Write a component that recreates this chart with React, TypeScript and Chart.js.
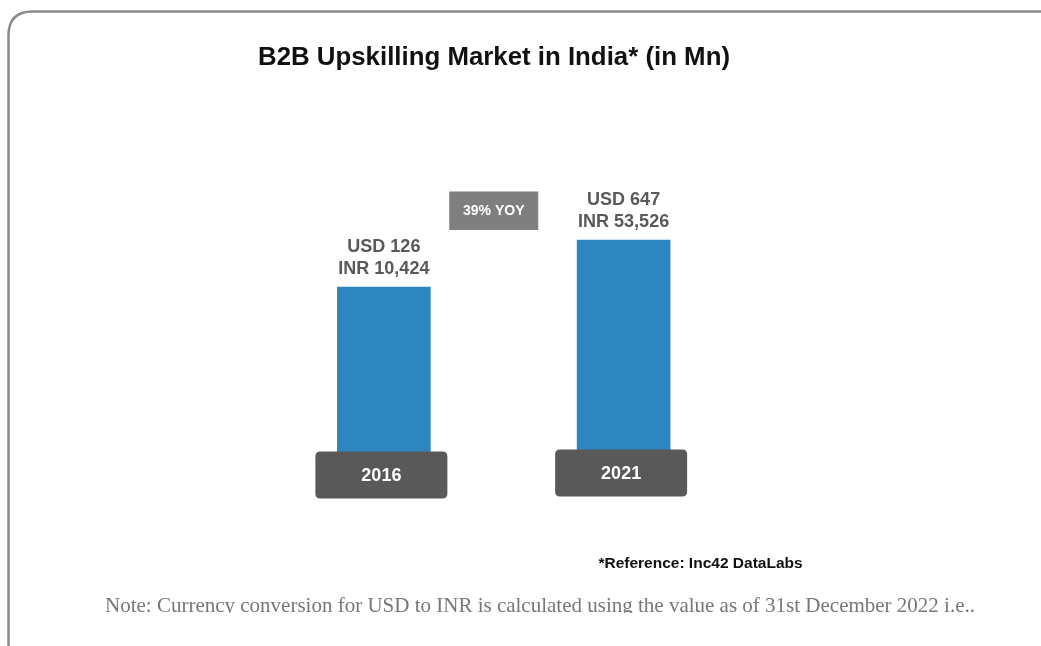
import React, { useEffect, useRef } from "react";
import { Chart, registerables } from "chart.js";

Chart.register(...registerables);

const years = ["2016", "2021"];
const usdValues = [126, 647];
const inrValues = [10424, 53526];
const yoyLabel = "39% YOY";
const titleText = "B2B Upskilling Market in India* (in Mn)";
const referenceText = "*Reference: Inc42 DataLabs";
const noteText =
  "Note: Currency conversion for USD to INR is calculated using the value as of 31st December 2022 i.e..";

const SANS = '"Liberation Sans", Arial, sans-serif';
const SERIF = '"Liberation Serif", "Times New Roman", serif';
const Y_MIN = -1900;
const Y_MAX = 2200;

function roundRect(ctx: CanvasRenderingContext2D, x: number, y: number, w: number, h: number, r: number) {
  ctx.beginPath();
  ctx.moveTo(x + r, y);
  ctx.lineTo(x + w - r, y);
  ctx.quadraticCurveTo(x + w, y, x + w, y + r);
  ctx.lineTo(x + w, y + h - r);
  ctx.quadraticCurveTo(x + w, y + h, x + w - r, y + h);
  ctx.lineTo(x + r, y + h);
  ctx.quadraticCurveTo(x, y + h, x, y + h - r);
  ctx.lineTo(x, y + r);
  ctx.quadraticCurveTo(x, y, x + r, y);
  ctx.closePath();
}

const decorPlugin = {
  id: "decor",
  beforeDraw(chart: any) {
    const ctx: CanvasRenderingContext2D = chart.ctx;
    ctx.save();
    ctx.fillStyle = "#ffffff";
    ctx.fillRect(0, 0, chart.width, chart.height);
    ctx.strokeStyle = "#8a8a8a";
    ctx.lineWidth = 2.5;
    roundRect(ctx, 8.5, 11.5, 1054, 655, 24);
    ctx.stroke();
    ctx.restore();
  },
  afterDatasetsDraw(chart: any) {
    const ctx: CanvasRenderingContext2D = chart.ctx;
    const meta = chart.getDatasetMeta(0);
    ctx.save();

    ctx.fillStyle = "#111111";
    ctx.font = `bold 26px ${SANS}`;
    ctx.textAlign = "center";
    ctx.textBaseline = "alphabetic";
    ctx.fillText(titleText, 494, 65, 472);

    meta.data.forEach((bar: any, i: number) => {
      const cx = bar.x;
      const top = bar.y;
      ctx.fillStyle = "#595959";
      ctx.font = `bold 18px ${SANS}`;
      ctx.textAlign = "center";
      ctx.textBaseline = "middle";
      ctx.fillText(`USD ${usdValues[i]}`, cx, top - 40);
      ctx.fillText(`INR ${inrValues[i].toLocaleString("en-US")}`, cx, top - 18);

      const bw = 132;
      const bh = 47;
      const bx = cx - 2.5;
      const by = i === 0 ? 451.5 : 449.5;
      ctx.fillStyle = "#595959";
      roundRect(ctx, bx - bw / 2, by, bw, bh, 5);
      ctx.fill();
      ctx.fillStyle = "#ffffff";
      ctx.font = `bold 18px ${SANS}`;
      ctx.fillText(years[i], bx, by + bh / 2 + 1);
    });

    const x0 = meta.data[0].x;
    const x1 = meta.data[1].x;
    const mid = (x0 + x1) / 2 - 10;
    ctx.fillStyle = "#7f7f7f";
    ctx.fillRect(mid - 44.5, 191.5, 89, 38.5);
    ctx.fillStyle = "#ffffff";
    ctx.font = `bold 14px ${SANS}`;
    ctx.textAlign = "center";
    ctx.textBaseline = "middle";
    ctx.fillText(yoyLabel, mid, 211.5);

    ctx.fillStyle = "#111111";
    ctx.font = `bold 15.5px ${SANS}`;
    ctx.textBaseline = "alphabetic";
    ctx.fillText(referenceText, 700.5, 568, 205);

    ctx.save();
    ctx.beginPath();
    ctx.rect(0, 580, chart.width, 33);
    ctx.clip();
    ctx.fillStyle = "#777777";
    ctx.font = `21px ${SERIF}`;
    ctx.textAlign = "left";
    ctx.fillText(noteText, 105, 611.5, 870);
    ctx.restore();

    ctx.restore();
  },
};

export default function App() {
  const ref = useRef<HTMLCanvasElement | null>(null);
  useEffect(() => {
    if (!ref.current) return;
    const chart = new Chart(ref.current, {
      type: "bar",
      data: {
        labels: years,
        datasets: [
          {
            data: usdValues,
            backgroundColor: "#2E86C1",
            borderWidth: 0,
            barThickness: 93,
            base: Y_MIN,
          },
        ],
      },
      options: {
        responsive: false,
        animation: false,
        devicePixelRatio: 1,
        layout: { padding: { left: 264, right: 297.5, top: 100, bottom: 176 } },
        plugins: {
          legend: { display: false },
          title: { display: false },
          tooltip: { enabled: false },
        },
        scales: {
          x: { display: false, grid: { display: false } },
          y: { display: false, min: Y_MIN, max: Y_MAX, grid: { display: false } },
        },
      },
      plugins: [decorPlugin],
    });
    return () => chart.destroy();
  }, []);
  return (
    <div style={{ position: "fixed", left: 0, top: 0, width: 1041, height: 646, background: "#fff" }}>
      <canvas ref={ref} width={1041} height={646} style={{ display: "block" }} />
    </div>
  );
}
